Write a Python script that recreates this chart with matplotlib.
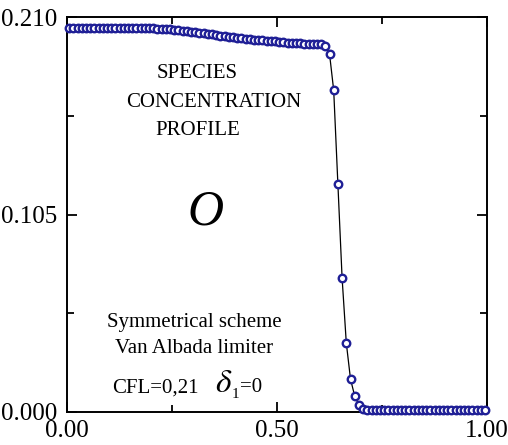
import matplotlib
matplotlib.use("Agg")
import matplotlib.pyplot as plt
from matplotlib.ticker import FixedLocator

plt.rcParams['font.family'] = ['Liberation Serif', 'DejaVu Serif']
plt.rcParams['mathtext.fontset'] = 'stix'

# ---- data ----
x_pos = [0.005 + 0.01 * i for i in range(100)]
concentration = [
    0.2043, 0.2043, 0.2043, 0.2043, 0.2043, 0.2043, 0.2043, 0.2043, 0.2043, 0.2042,
    0.2042, 0.2042, 0.2042, 0.2042, 0.2042, 0.2041, 0.2041, 0.2041, 0.2040, 0.2040,
    0.2039, 0.2038, 0.2037, 0.2036, 0.2034, 0.2032, 0.2030, 0.2028, 0.2025, 0.2022,
    0.2019, 0.2016, 0.2013, 0.2010, 0.2007, 0.2004, 0.2001, 0.1998, 0.1995, 0.1992,
    0.1989, 0.1987, 0.1984, 0.1982, 0.1980, 0.1978, 0.1976, 0.1974, 0.1972, 0.1970,
    0.1968, 0.1966, 0.1964, 0.1962, 0.1961, 0.1960, 0.1959, 0.1958, 0.1958, 0.1958,
    0.1957, 0.1945, 0.1905, 0.1710, 0.1210, 0.0712, 0.0367, 0.0175, 0.0085, 0.0037,
    0.0018, 0.0011, 0.0009, 0.0008, 0.0008, 0.0008, 0.0008, 0.0008, 0.0008, 0.0008,
    0.0008, 0.0008, 0.0008, 0.0008, 0.0008, 0.0008, 0.0008, 0.0008, 0.0008, 0.0008,
    0.0008, 0.0008, 0.0008, 0.0008, 0.0008, 0.0008, 0.0008, 0.0008, 0.0008, 0.0008,
]
x_ticks = [0.0, 0.5, 1.0]
x_tick_labels = ["0.00", "0.50", "1.00"]
y_ticks = [0.0, 0.105, 0.210]
y_tick_labels = ["0.000", "0.105", "0.210"]

fig = plt.figure(figsize=(5.08, 4.45), dpi=100)
ax = fig.add_axes([67 / 508, 33 / 445, 420 / 508, 395 / 445])

ax.plot(x_pos, concentration, color='black', lw=0.9, zorder=2, clip_on=False)
ax.plot(x_pos, concentration, ls='none', marker='o', ms=5.4, mew=1.7,
        mec='#1f1f96', mfc='white', zorder=3, clip_on=False)

ax.set_xlim(0, 1)
ax.set_ylim(0, 0.210)
ax.set_xticks(x_ticks)
ax.set_xticklabels(x_tick_labels)
ax.set_yticks(y_ticks)
ax.set_yticklabels(y_tick_labels)
ax.xaxis.set_minor_locator(FixedLocator([0.25, 0.75]))
ax.yaxis.set_minor_locator(FixedLocator([0.0525, 0.1575]))
ax.tick_params(which='both', direction='in', top=True, right=True,
               labelsize=18, width=1.3)
ax.tick_params(which='major', length=7)
ax.tick_params(which='minor', length=5)
ax.tick_params(axis='y', pad=7)
ax.tick_params(axis='x', pad=6)
for s in ax.spines.values():
    s.set_linewidth(1.4)

kw = dict(ha='center', va='baseline', fontsize=15)
ax.text(0.310, 0.1776, "SPECIES", **kw)
ax.text(0.350, 0.1622, "CONCENTRATION", **kw)
ax.text(0.312, 0.1473, "PROFILE", **kw)
ax.text(0.329, 0.1063, "O", ha='center', va='center', fontsize=36,
        style='italic')
ax.text(0.302, 0.0452, "Symmetrical scheme", ha='center', va='baseline', fontsize=15)
ax.text(0.302, 0.0314, "Van Albada limiter", ha='center', va='baseline', fontsize=15)
ax.text(0.107, 0.0106, "CFL=0,21", ha='left', va='baseline', fontsize=15)
ax.text(0.352, 0.0106, r"$\delta$", ha='left', va='baseline', fontsize=24)
ax.text(0.392, 0.0076, "1", ha='left', va='baseline', fontsize=11)
ax.text(0.411, 0.0106, "=0", ha='left', va='baseline', fontsize=15)

fig.savefig("out.png", dpi=100)
